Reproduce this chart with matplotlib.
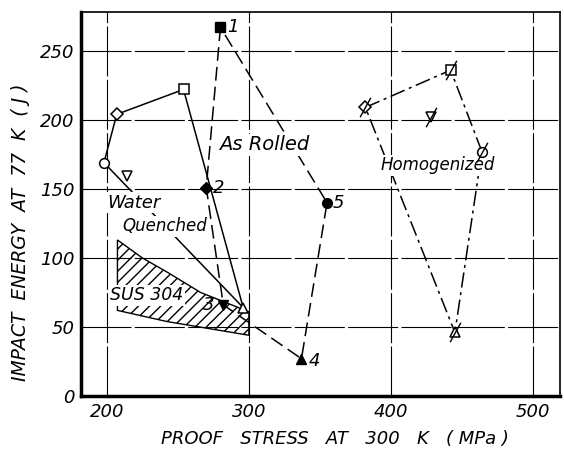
import matplotlib
matplotlib.use('Agg')
import matplotlib.pyplot as plt
from matplotlib.path import Path
from matplotlib.patches import Polygon

plt.rcParams['font.family'] = 'DejaVu Sans'
plt.rcParams['font.style'] = 'italic'
plt.rcParams['hatch.linewidth'] = 1.0

# water quenched (open markers, solid line)
wq_x = [296, 198, 207, 254]
wq_y = [64, 169, 204, 222]
wq_mk = ['^', 'o', 'D', 's']
wq_extra = (214, 159)  # open inverted triangle

# as rolled (filled markers, dashed)
ar_x = [280, 270, 282, 337, 355]
ar_y = [267, 151, 66, 27, 140]
ar_mk = ['s', 'D', 'v', '^', 'o']
ar_lbl = ['1', '2', '3', '4', '5']

# homogenized (slashed open markers, dash-dot)
ho_x = [382, 442, 464, 445]
ho_y = [209, 236, 177, 46]
ho_mk = ['D', 's', 'o', '^']
ho_extra = (428, 202)

# SUS 304 band
sus_x = [207.5, 225, 242, 266, 300, 300, 242, 207.5]
sus_y = [113, 100, 90, 75, 61, 44, 54, 62]

slash = Path([(-0.55, -1.0), (0.55, 1.0)], [Path.MOVETO, Path.LINETO])

fig = plt.figure(figsize=(5.64, 4.5), dpi=100)
ax = fig.add_axes([0.144, 0.12, 0.849, 0.853])
ax.set_xlim(182, 519)
ax.set_ylim(0, 278)

for v in [200, 300, 400, 500]:
    ax.axvline(v, color='black', lw=0.8, dashes=(45, 3), zorder=1)
for v in [50, 100, 150, 200, 250]:
    ax.axhline(v, color='black', lw=0.8, dashes=(45, 3), zorder=1)

# SUS 304
ax.add_patch(Polygon(list(zip(sus_x, sus_y)), closed=True, fill=False,
                     hatch='///', edgecolor='black', lw=1.0, zorder=2))
ax.text(228, 73, 'SUS 304', fontsize=12.5, ha='center', va='center', zorder=4,
        bbox=dict(facecolor='white', edgecolor='none', pad=1))

# water quenched polygon
ax.plot(wq_x + [wq_x[0]], wq_y + [wq_y[0]], color='black', lw=1.1, zorder=3)
for x, y, m in zip(wq_x, wq_y, wq_mk):
    ax.plot(x, y, marker=m, ms=7 if m != 'D' else 6, mfc='white', mec='black', mew=1.1, zorder=5)
ax.plot(*wq_extra, marker='v', ms=7, mfc='white', mec='black', mew=1.1, zorder=5)

# as rolled polygon
ax.plot(ar_x + [ar_x[0]], ar_y + [ar_y[0]], color='black', lw=1.1, dashes=(9, 4), zorder=3)
for x, y, m in zip(ar_x, ar_y, ar_mk):
    ax.plot(x, y, marker=m, ms=7 if m != 'D' else 6, mfc='black', mec='black', zorder=5)
lbl_off = [(9, 0), (9, 0), (-10, 0), (9, -2), (8, 0)]
for x, y, t, (dx, dy) in zip(ar_x, ar_y, ar_lbl, lbl_off):
    ax.text(x + dx, y + dy, t, fontsize=13, ha='center', va='center', zorder=4)

# homogenized polygon
ax.plot(ho_x + [ho_x[0]], ho_y + [ho_y[0]], color='black', lw=1.1, dashes=(10, 3, 2, 3), zorder=3)
for x, y, m in zip(ho_x, ho_y, ho_mk):
    ax.plot(x, y, marker=m, ms=7 if m != 'D' else 6, mfc='white', mec='black', mew=1.1, zorder=5)
    ax.plot(x, y, marker=slash, ms=14, mec='black', mew=1.0, zorder=6)
ax.plot(*ho_extra, marker='v', ms=7, mfc='white', mec='black', mew=1.1, zorder=5)
ax.plot(*ho_extra, marker=slash, ms=14, mec='black', mew=1.0, zorder=6)

box = dict(facecolor='white', edgecolor='none', pad=1)
ax.text(311, 182, 'As Rolled', fontsize=14, ha='center', va='center', zorder=4, bbox=box)
ax.text(433, 167, 'Homogenized', fontsize=12, ha='center', va='center', zorder=4, bbox=box)
ax.text(219, 140, 'Water', fontsize=13, ha='center', va='center', zorder=4, bbox=box)
ax.text(241, 123, 'Quenched', fontsize=12, ha='center', va='center', zorder=4, bbox=box)

ax.set_xticks([200, 300, 400, 500])
ax.set_yticks([0, 50, 100, 150, 200, 250])
ax.tick_params(length=0, labelsize=13, pad=5)
ax.set_xlabel('PROOF   STRESS   AT   300   K   ( MPa )', fontsize=13, labelpad=2)
ax.xaxis.set_label_coords(0.53, -0.088)
ax.set_ylabel('IMPACT  ENERGY  AT  77  K  ( J )', fontsize=13.5)
ax.yaxis.set_label_coords(-0.108, 0.427)
ax.spines['left'].set_linewidth(2.5)
ax.spines['bottom'].set_linewidth(2.5)
ax.spines['top'].set_linewidth(1.2)
ax.spines['right'].set_linewidth(1.2)

fig.savefig('out.png', dpi=100)
